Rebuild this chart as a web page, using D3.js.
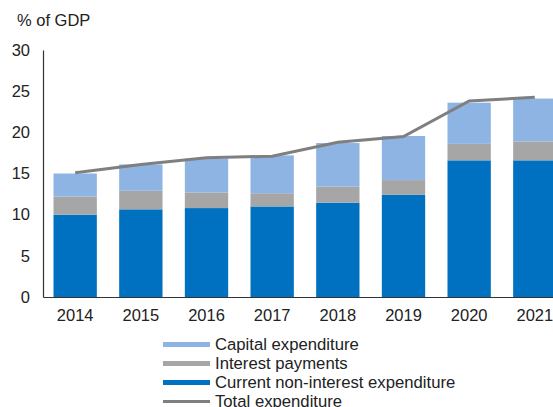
<!DOCTYPE html>
<html>
<head>
<meta charset="utf-8">
<script src="https://cdn.jsdelivr.net/npm/d3@7"></script>
<style>
  html, body { margin: 0; padding: 0; background: #fff; }
  svg { display: block; font-family: "Liberation Sans", Arial, sans-serif; }
</style>
</head>
<body>
<svg id="chart" width="553" height="407"></svg>
<script>
// Government expenditure, % of GDP
const years = ["2014", "2015", "2016", "2017", "2018", "2019", "2020", "2021"];
const currentNonInterest = [10.0, 10.65, 10.8, 11.0, 11.45, 12.4, 16.6, 16.6];
const interestPayments   = [2.2, 2.25, 1.9, 1.6, 1.95, 1.8, 2.0, 2.3];
const capitalExpenditure = [2.8, 3.2, 4.1, 4.6, 5.3, 5.35, 5.0, 5.2];
const totalExpenditure   = [15.1, 16.1, 16.9, 17.1, 18.8, 19.5, 23.8, 24.25];
const yTicks = [0, 5, 10, 15, 20, 25, 30];

const seriesKeys = ["current", "interest", "capital"];
const seriesLabels = {
  capital: "Capital expenditure",
  interest: "Interest payments",
  current: "Current non-interest expenditure",
  total: "Total expenditure"
};
const colors = {
  current: "#0070C0",
  interest: "#A6A6A6",
  capital: "#8EB4E3",
  total: "#7F7F7F"
};

const rows = years.map((yr, i) => ({
  year: yr,
  current: currentNonInterest[i],
  interest: interestPayments[i],
  capital: capitalExpenditure[i],
  total: totalExpenditure[i]
}));

const svg = d3.select("#chart");
const plotLeft = 43, plotTop = 50, plotBottom = 297;

const x = d3.scaleBand().domain(years).range([plotLeft, 567])
  .paddingInner(0.34).paddingOuter(0.16);
const y = d3.scaleLinear().domain([0, 30]).range([plotBottom, plotTop]);

const stacked = d3.stack().keys(seriesKeys)(rows);

svg.append("g").selectAll("g")
  .data(stacked).join("g")
  .attr("fill", d => colors[d.key])
  .selectAll("rect")
  .data(d => d).join("rect")
  .attr("x", d => x(d.data.year))
  .attr("width", x.bandwidth())
  .attr("y", d => y(d[1]))
  .attr("height", d => y(d[0]) - y(d[1]));

// total expenditure line
const line = d3.line()
  .x(d => x(d.year) + x.bandwidth() / 2)
  .y(d => y(d.total));
svg.append("path").datum(rows)
  .attr("fill", "none")
  .attr("stroke", colors.total)
  .attr("stroke-width", 3)
  .attr("d", line);

// y axis
const yAxis = svg.append("g").attr("transform", `translate(${plotLeft},0)`)
  .call(d3.axisLeft(y).tickValues(yTicks).tickSize(0).tickPadding(13));
yAxis.select(".domain").attr("stroke", "#333").attr("stroke-width", 1.2);
yAxis.selectAll("text").attr("font-size", 16.5).attr("fill", "#222")
  .attr("font-family", "Liberation Sans, Arial, sans-serif");

// x axis
const xAxis = svg.append("g").attr("transform", `translate(0,${plotBottom})`)
  .call(d3.axisBottom(x).tickSize(0).tickPadding(12));
xAxis.select(".domain").attr("stroke", "#333").attr("stroke-width", 1.2);
xAxis.selectAll("text").attr("font-size", 16.5).attr("fill", "#222")
  .attr("font-family", "Liberation Sans, Arial, sans-serif");

// unit label
svg.append("text").attr("x", 17).attr("y", 26)
  .attr("font-size", 16.5).attr("fill", "#222").text("% of GDP");

// legend
const legendItems = ["capital", "interest", "current", "total"];
const lg = svg.append("g").attr("transform", "translate(163,344.5)");
legendItems.forEach((k, i) => {
  const g = lg.append("g").attr("transform", `translate(0,${i * 19})`);
  g.append("rect").attr("x", 0).attr("y", k === "total" ? -1.5 : -2.5)
    .attr("width", 47).attr("height", k === "total" ? 3 : 5)
    .attr("fill", colors[k]);
  g.append("text").attr("x", 52).attr("y", 0).attr("dy", "0.35em")
    .attr("font-size", 16.7).attr("fill", "#222").text(seriesLabels[k]);
});
</script>
</body>
</html>
